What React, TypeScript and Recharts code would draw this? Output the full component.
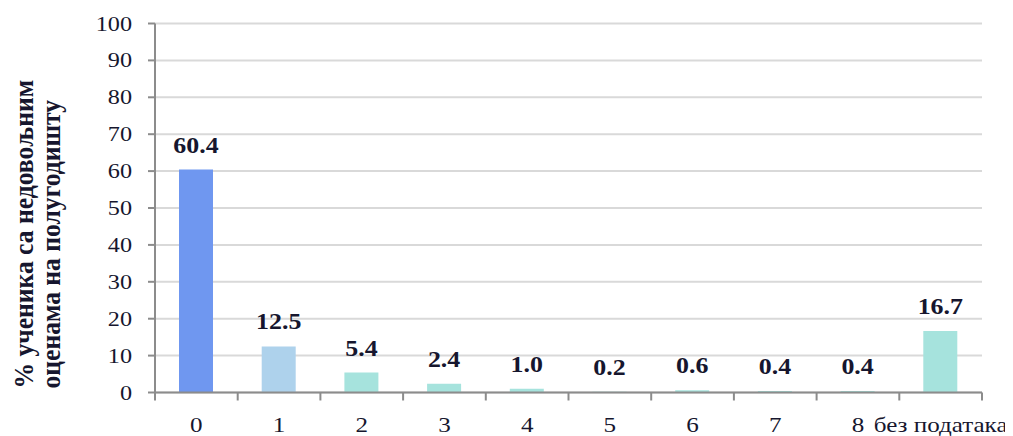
import React from "react";
import { BarChart, Bar, XAxis, YAxis, CartesianGrid, Cell, LabelList, Label } from "recharts";

const categories = ["0", "1", "2", "3", "4", "5", "6", "7", "8", "без података"];
const values = [60.4, 12.5, 5.4, 2.4, 1.0, 0.2, 0.6, 0.4, 0.4, 16.7];
const barColors = ["#6f97f0", "#aed2ec", "#a6e3dd", "#a6e3dd", "#a6e3dd", "#a6e3dd", "#a6e3dd", "#a6e3dd", "#a6e3dd", "#a6e3dd"];
const yTicks = [0, 10, 20, 30, 40, 50, 60, 70, 80, 90, 100];
const yLabelLines = ["% ученика са недовољним", "оценама на полугодишту"];

const data = categories.map((c, i) => ({ name: c, value: values[i] }));

const FONT = "Liberation Serif";
const TEXT = "#16162e";
const AXIS = "#8c8c8c";
const SX = 1.1;

const txt = (size: number, bold?: boolean): React.CSSProperties => ({
  fontFamily: FONT,
  fontSize: size,
  fontWeight: bold ? 700 : 400,
  fill: TEXT,
});

const XTick = (props: any) => {
  const { x, y, payload, index, width, visibleTicksCount } = props;
  const half = payload && payload.offset ? payload.offset : width / visibleTicksCount / 2;
  const last = index === visibleTicksCount - 1;
  return (
    <g>
      <line x1={x - half} x2={x - half} y1={y} y2={y + 8} stroke={AXIS} strokeWidth={2} />
      {last && <line x1={x + half} x2={x + half} y1={y} y2={y + 8} stroke={AXIS} strokeWidth={2} />}
      <text
        transform={`translate(${x}, ${y + 39}) scale(1.14, 1)`}
        x={0}
        y={0}
        textAnchor="middle"
        style={txt(22)}
      >
        {payload.value}
      </text>
    </g>
  );
};

const YTick = (props: any) => {
  const { x, y, payload } = props;
  return (
    <text
      transform={`translate(${x}, ${y + 7}) scale(${SX}, 1)`}
      x={0}
      y={0}
      textAnchor="end"
      style={txt(22)}
    >
      {payload.value}
    </text>
  );
};

const BarValue = (props: any) => {
  const { x, y, width, value } = props;
  return (
    <text
      transform={`translate(${x + width / 2}, ${y - 17}) scale(1.08, 1)`}
      x={0}
      y={0}
      textAnchor="middle"
      style={txt(24, true)}
    >
      {Number(value).toFixed(1)}
    </text>
  );
};

const YLabel = (props: any) => {
  const vb = props.viewBox || {};
  const cy = vb.y + vb.height;
  return (
    <g>
      {yLabelLines.map((t, i) => (
        <text
          key={i}
          x={0}
          y={0}
          transform={`translate(${25 + i * 27}, ${cy - 4}) rotate(-90) scale(1, 1.05)`}
          textAnchor="start"
          style={txt(25.6, true)}
        >
          {t}
        </text>
      ))}
    </g>
  );
};

export default function App() {
  return (
    <div style={{ width: 1005, height: 428, fontFamily: FONT }}>
      <BarChart
        width={1005}
        height={428}
        data={data}
        margin={{ top: 15.5, right: 31, bottom: 13.5, left: 87 }}
      >
        <CartesianGrid horizontal vertical={false} stroke="#d9d9d9" strokeWidth={2} />
        <XAxis
          dataKey="name"
          interval={0}
          height={30}
          tickLine={false}
          tickSize={0}
          tickMargin={0}
          axisLine={{ stroke: AXIS, strokeWidth: 2 }}
          tick={<XTick />}
        />
        <YAxis
          domain={[0, 100]}
          ticks={yTicks}
          interval={0}
          width={60}
          tickSize={7}
          tickMargin={16}
          axisLine={{ stroke: AXIS, strokeWidth: 2 }}
          tickLine={{ stroke: AXIS, strokeWidth: 2 }}
          tick={<YTick />}
        >
          <Label content={<YLabel />} />
        </YAxis>
        <Bar dataKey="value" barSize={34} isAnimationActive={false}>
          {data.map((d, i) => (
            <Cell key={i} fill={barColors[i]} />
          ))}
          <LabelList dataKey="value" content={<BarValue />} />
        </Bar>
      </BarChart>
    </div>
  );
}
